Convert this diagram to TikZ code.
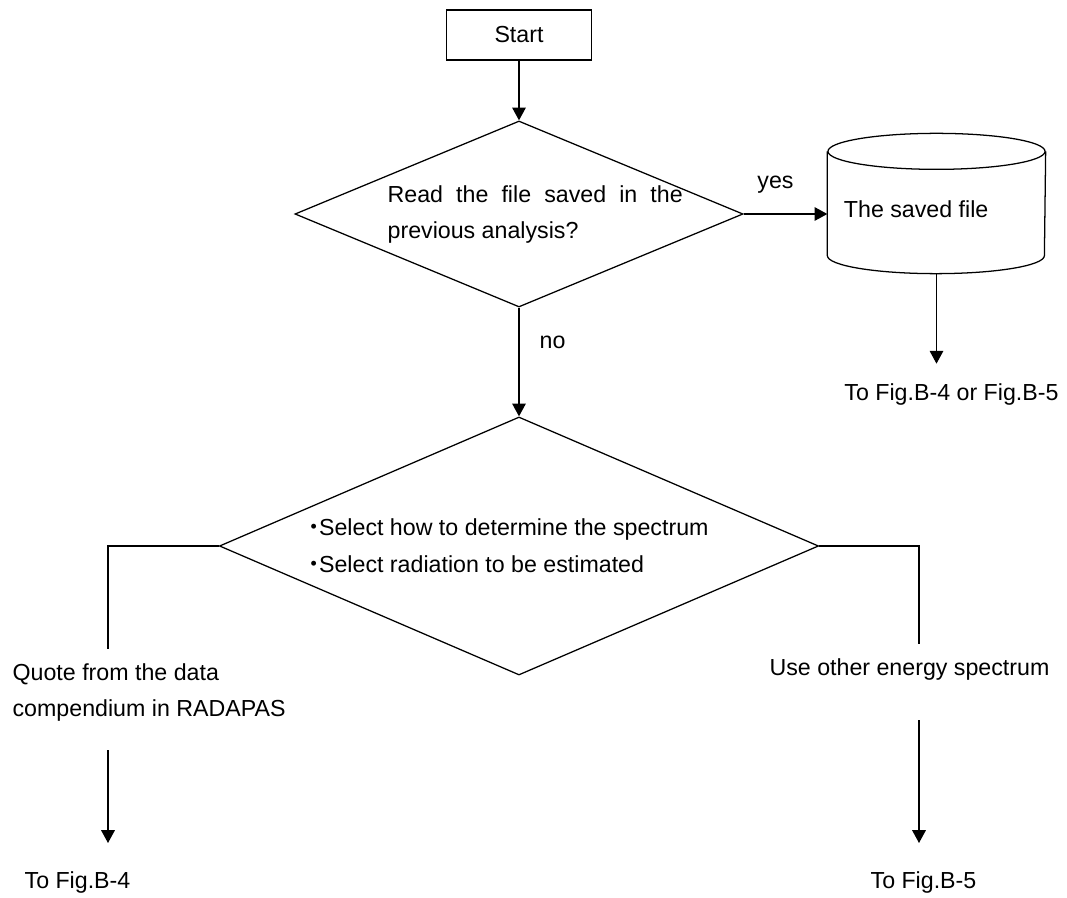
\documentclass[tikz,border=0pt]{standalone}
\usepackage{fontspec}
\setmainfont{Liberation Sans}
\newfontfamily\cjk{Noto Sans CJK JP}
\usetikzlibrary{shapes.geometric,arrows.meta}
\newcommand{\midpt}{\makebox[0.45em]{\cjk ・}}

\begin{document}
\begin{tikzpicture}[x=0.025cm,y=-0.025cm,>={Triangle[length=3.2mm,width=3.4mm]},line width=0.9pt,
    every node/.style={font=\fontsize{16.5}{26.3}\selectfont},
    box/.style={draw,rectangle,minimum width=3.625cm,minimum height=1.25cm,inner sep=0},
    ask/.style={draw,diamond,inner sep=0},
    txt/.style={align=left,inner sep=0}]
        \useasboundingbox (0,0) rectangle (1067,898); % поле
        \node[box] (start) at (519,35) {Start}; % начало
        \node[ask,minimum width=11.2cm,minimum height=4.65cm] (q1) at (519,214) {}; % вопрос 1
        \node[txt,anchor=west] (q1t) at (387,214.5) {\makebox[7.375cm][s]{Read the file saved in the}\\previous analysis?};
        \node[minimum width=5.425cm,minimum height=2.575cm,inner sep=0] (saved) at (936.5,203.5) {}; % цилиндр
        \draw (saved.north) ellipse [x radius=2.7125cm, y radius=0.45cm];
        \draw (saved.north west) -- (saved.south west) arc [start angle=180, end angle=360, x radius=2.7125cm, y radius=0.45cm] -- (saved.north east);
        \node[txt,anchor=west] (savedt) at ([xshift=0.4cm,yshift=-0.14cm]saved.west) {The saved file};
        \coordinate (e1) at ([yshift=-2.7cm]saved.south);
        \node[txt] (fig45) at (951.5,395) {To Fig.B-4 or Fig.B-5};
        \node[ask,minimum width=14.975cm,minimum height=6.45cm] (q2) at (519,546) {}; % вопрос 2
        \node[txt,anchor=west] (q2t) at (308,545.5) {\midpt Select how to determine the spectrum\\\midpt Select radiation to be estimated};
        \draw[->] (start.south) -- (q1.north);
        \draw[->] (q1.east) -- (q1.east -| saved.west) node[txt,pos=0.38,above=0.49cm] {yes}; % да
        \draw[->] ([yshift=-0.45cm]saved.south) -- (e1);
        \draw[->] (q1.south) -- (q2.north) node[txt,pos=0.32,right=0.5cm] {no}; % нет
        % левая ветка
        \coordinate (l1) at (108,649);
        \coordinate (l2) at (108,750);
        \coordinate (l3) at (108,843);
        \draw (q2.west) -| (l1);
        \node[txt,anchor=west] (quote) at (12,692.5) {Quote from the data\\compendium in RADAPAS};
        \draw[->] (l2) -- (l3);
        \node[txt] (fig4) at (77.5,882) {To Fig.B-4};
        % правая ветка
        \coordinate (r1) at (919,644);
        \coordinate (r2) at (919,720);
        \coordinate (r3) at (919,843);
        \draw (q2.east) -| (r1);
        \node[txt] (other) at (909.5,670) {Use other energy spectrum};
        \draw[->] (r2) -- (r3);
        \node[txt] (fig5) at (923.5,882) {To Fig.B-5};
    \end{tikzpicture}
\end{document}
